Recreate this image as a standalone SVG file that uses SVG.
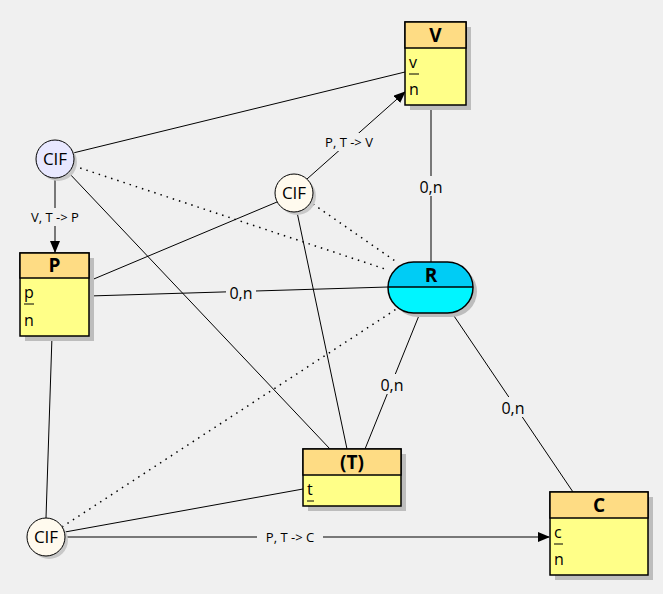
<svg xmlns="http://www.w3.org/2000/svg" width="663" height="594" viewBox="0 0 663 594">
<style>
.ln{stroke:#000;stroke-width:1;fill:none}
.dot{stroke:#000;stroke-width:1.5;fill:none;stroke-dasharray:1.5 5}
.shd{fill:#bdbdbd}
.hd{fill:#fedc84;stroke:#000;stroke-width:1.5}
.bd{fill:#ffff88;stroke:#000;stroke-width:1.5}
.nm{font-family:"Open Sans","Noto Sans","DejaVu Sans",sans-serif;font-weight:bold;font-size:19px;text-anchor:middle}
.at{font-family:"Open Sans","Noto Sans","DejaVu Sans",sans-serif;font-size:16px}
.lb{font-family:"Open Sans","Noto Sans","DejaVu Sans",sans-serif;font-size:16px;text-anchor:middle}
.sl{font-family:"Open Sans","Noto Sans","DejaVu Sans",sans-serif;font-size:13px;text-anchor:middle}
.cif{font-family:"Open Sans","Noto Sans","DejaVu Sans",sans-serif;font-size:17px;text-anchor:middle}
.lbg{fill:#f0f0f0}
</style>
<defs>
<marker id="arr" markerWidth="12" markerHeight="10" refX="11" refY="5" orient="auto" markerUnits="userSpaceOnUse">
<path d="M0,0 L12,5 L0,10 Z" fill="#000"/>
</marker>
</defs>
<rect width="663" height="594" fill="#f0f0f0"/>
<g id="connectors">
<line class="ln" x1="73" y1="153" x2="405" y2="72"/>
<line class="ln" x1="307" y1="179" x2="405" y2="92" marker-end="url(#arr)"/>
<line class="ln" x1="55" y1="178" x2="55" y2="252" marker-end="url(#arr)"/>
<line class="dot" x1="74" y1="166" x2="388" y2="270"/>
<line class="ln" x1="68" y1="172" x2="330" y2="449"/>
<line class="ln" x1="277" y1="202" x2="89" y2="281"/>
<line class="ln" x1="297" y1="212" x2="347" y2="449"/>
<line class="dot" x1="313" y1="204" x2="398" y2="263"/>
<line class="ln" x1="89" y1="296" x2="388" y2="287"/>
<line class="ln" x1="52" y1="336" x2="46" y2="518"/>
<line class="dot" x1="62" y1="527" x2="398" y2="308"/>
<line class="ln" x1="65" y1="532" x2="303" y2="489"/>
<line class="ln" x1="65" y1="537" x2="549" y2="537" marker-end="url(#arr)"/>
<line class="ln" x1="431" y1="105" x2="431" y2="262"/>
<line class="ln" x1="420" y1="313" x2="365" y2="449"/>
<line class="ln" x1="452" y1="313" x2="573" y2="492"/>
<rect class="lbg" x="317" y="133" width="64" height="18"/>
<text class="sl" x="349" y="147">P, T -&gt; V</text>
<rect class="lbg" x="23" y="208" width="64" height="18"/>
<text class="sl" x="55" y="222">V, T -&gt; P</text>
<rect class="lbg" x="257" y="528" width="66" height="18"/>
<text class="sl" x="290" y="542">P, T -&gt; C</text>
<rect class="lbg" x="226" y="282" width="30" height="20"/>
<text class="lb" x="241" y="299">0,n</text>
<rect class="lbg" x="416" y="176" width="30" height="20"/>
<text class="lb" x="431" y="193">0,n</text>
<rect class="lbg" x="377" y="374" width="30" height="20"/>
<text class="lb" x="392" y="391">0,n</text>
<rect class="lbg" x="498" y="397" width="30" height="20"/>
<text class="lb" x="513" y="414">0,n</text>
</g>
<g id="V">
<rect class="shd" x="410" y="27" width="61" height="83"/>
<rect class="bd" x="405" y="22" width="61" height="83"/>
<rect class="hd" x="405" y="22" width="61" height="26"/>
<text class="nm" x="435.5" y="42">V</text>
<text class="at" x="409" y="68">v</text>
<line x1="409" y1="74" x2="419" y2="74" stroke="#000"/>
<text class="at" x="409" y="95">n</text>
</g>
<g id="P">
<rect class="shd" x="25" y="258" width="69" height="83"/>
<rect class="bd" x="20" y="253" width="69" height="83"/>
<rect class="hd" x="20" y="253" width="69" height="25"/>
<text class="nm" x="54.5" y="272">P</text>
<text class="at" x="24" y="298">p</text>
<line x1="24" y1="304" x2="34" y2="304" stroke="#000"/>
<text class="at" x="24" y="326">n</text>
</g>
<g id="T">
<rect class="shd" x="308" y="454" width="98" height="57"/>
<rect class="bd" x="303" y="449" width="98" height="57"/>
<rect class="hd" x="303" y="449" width="98" height="26"/>
<text class="nm" x="352" y="469">(T)</text>
<text class="at" x="307" y="495">t</text>
<line x1="307" y1="501" x2="314" y2="501" stroke="#000"/>
</g>
<g id="C">
<rect class="shd" x="555" y="497" width="98" height="83"/>
<rect class="bd" x="550" y="492" width="98" height="83"/>
<rect class="hd" x="550" y="492" width="98" height="26"/>
<text class="nm" x="599" y="512">C</text>
<text class="at" x="554" y="538">c</text>
<line x1="554" y1="544" x2="563" y2="544" stroke="#000"/>
<text class="at" x="554" y="565">n</text>
</g>
<g id="R">
<rect class="shd" x="392" y="266" width="85" height="51" rx="25.5"/>
<path d="M413.5,262 H447.5 A25.5,25.5 0 0 1 473,287 H388 A25.5,25.5 0 0 1 413.5,262 Z" fill="#00ccf5"/>
<path d="M388,287 H473 A25.5,25.5 0 0 1 447.5,313 H413.5 A25.5,25.5 0 0 1 388,287 Z" fill="#00f5ff"/>
<rect x="388" y="262" width="85" height="51" rx="25.5" fill="none" stroke="#000" stroke-width="1.5"/>
<line x1="388" y1="287" x2="473" y2="287" stroke="#000" stroke-width="1.5"/>
<text class="nm" x="431" y="282">R</text>
</g>
<g id="CIF1">
<circle cx="58" cy="162" r="19" fill="#c8c8c8"/>
<circle cx="55" cy="159" r="19" fill="#e8e8ff" stroke="#000" stroke-width="1"/>
<text class="cif" x="55" y="165">CIF</text>
</g>
<g id="CIF2">
<circle cx="297" cy="196" r="19" fill="#c8c8c8"/>
<circle cx="294" cy="193" r="19" fill="#fffaee" stroke="#000" stroke-width="1"/>
<text class="cif" x="294" y="199">CIF</text>
</g>
<g id="CIF3">
<circle cx="49" cy="540" r="19" fill="#c8c8c8"/>
<circle cx="46" cy="537" r="19" fill="#fffaee" stroke="#000" stroke-width="1"/>
<text class="cif" x="46" y="543">CIF</text>
</g>
</svg>
